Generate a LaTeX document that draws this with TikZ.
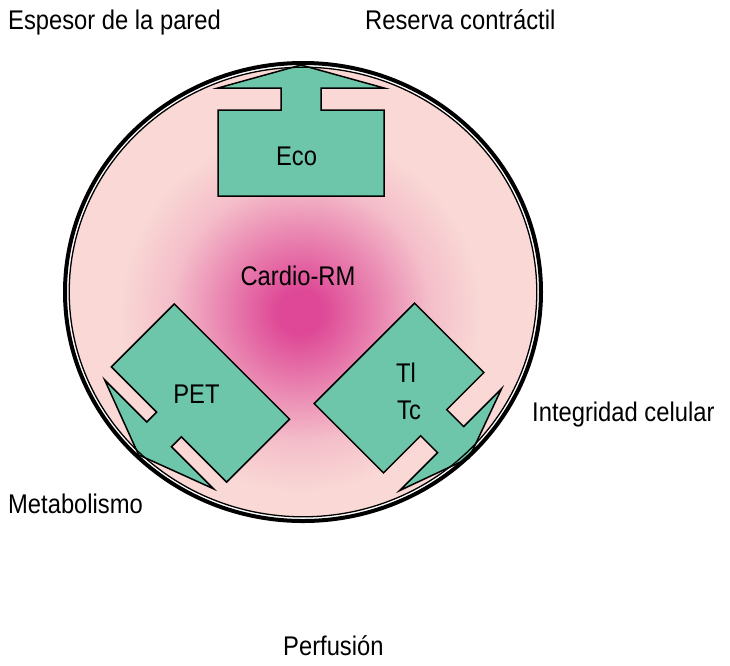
\documentclass[tikz,border=0pt]{standalone}
\usepackage{fontspec}
\setmainfont[FakeStretch=0.88]{Liberation Sans}
\usetikzlibrary{positioning}

\definecolor{rmpink}{RGB}{249,216,213}
\definecolor{rmmag}{RGB}{222,72,150}
\definecolor{rmgreen}{RGB}{110,198,170}

\pgfdeclareradialshading{cardio}{\pgfpoint{0bp}{0bp}}{color(0bp)=(rmmag); color(3bp)=(rmmag); color(10bp)=(rmmag!62!rmpink); color(18bp)=(rmmag!18!rmpink); color(25bp)=(rmpink); color(50bp)=(rmpink)}

% box with arrow: half length, half depth, stem half width, stem length, head height, head half width
\newcommand{\probebox}[6]{%
  \draw[probe] (-#1,#2) -- (-#1,-#2) -- (-#3,-#2) -- (-#3,-#2-#4) -- (-#6,-#2-#4)
    -- (0,-#2-#4-#5) -- (#6,-#2-#4) -- (#3,-#2-#4) -- (#3,-#2) -- (#1,-#2) -- (#1,#2) -- cycle;}

\begin{document}
\begin{tikzpicture}
			[x=1pt,y=-1pt,
			probe/.style={fill=rmgreen,draw=black,line width=1.5pt,line join=miter},
			txt/.style={font=\fontsize{27}{32}\selectfont,inner sep=0pt,anchor=base west},
			mid/.style={txt,anchor=base}]

			\useasboundingbox (0,0) rectangle (730,665);

			% the heart
			\fill[white] (303,292) ellipse [x radius=240, y radius=231];
			\fill[rmpink] (303,292) ellipse [x radius=234, y radius=225];
			\shade[shading=cardio] (300,312) circle (180);

			\begin{scope}[shift={(301,153)}]
				\probebox{83}{43}{20}{22}{23}{83}
			\end{scope}
			\begin{scope}[shift={(200.5,393)},rotate=135]
				\probebox{81.5}{44.5}{17.5}{14}{29}{77}
			\end{scope}
			\begin{scope}[shift={(399,388)},rotate=-135]
				\probebox{71}{49}{18.5}{24}{26}{72}
			\end{scope}

			\draw[line width=4pt] (303,292) ellipse [x radius=238, y radius=229];
			\draw[line width=1.3pt] (303,292) ellipse [x radius=233.8, y radius=224.8];

			\node[mid] (rm)  at (298,285)   {Cardio-RM};
			\node[mid] (eco) at (296.5,165) {Eco};
			\node[mid] (pet) at (196.5,403) {PET};
			\node[mid] (tl)  at (406,382)   {Tl};
			\node[mid] (tc)  at (409,419)   {Tc};

			\node[txt] (wall)  at (8,29)    {Espesor de la pared};
			\node[txt] (res)   at (365,29)  {Reserva contráctil};
			\node[txt] (meta)  at (8,513)   {Metabolismo};
			\node[txt] (cell)  at (532,421.5) {Integridad celular};
			\node[txt] (perf)  at (283,655) {Perfusión};
\end{tikzpicture}
\end{document}
